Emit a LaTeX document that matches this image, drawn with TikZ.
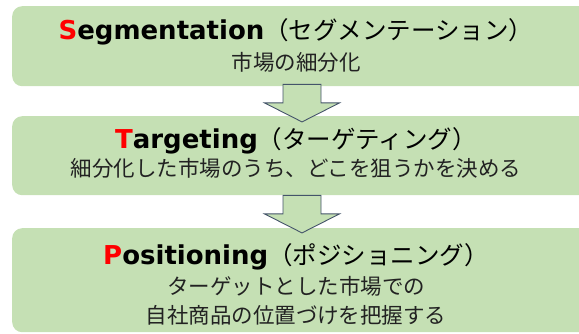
\documentclass[tikz,border=0pt]{standalone}
\usepackage{fontspec}
\setmainfont{Noto Sans CJK JP}
\newfontfamily\headfont{DejaVu Sans}
\usepackage{tikz}
\usetikzlibrary{calc}

\definecolor{boxgreen}{HTML}{C5E0B4}
\definecolor{arrowline}{HTML}{44546A}
\definecolor{keyred}{HTML}{FF0000}
\definecolor{inkgray}{HTML}{222222}

\tikzset{
  stagebox/.style={fill=boxgreen, rounded corners=10pt, minimum width=588pt,
    anchor=north west, inner sep=0pt},
  headline/.style={anchor=base, inner sep=0pt, text=black},
  subline/.style={inner sep=0pt, text=inkgray, align=center,
    font=\fontsize{21.5}{29}\selectfont},
  downarrow/.style={draw=arrowline, fill=boxgreen, line width=0.9pt, line join=miter}
}
\newcommand{\stagename}[2]{{\headfont\bfseries\fontsize{26}{30}\selectfont\textcolor{keyred}{#1}#2}}
\newcommand{\stagekana}[1]{{\fontsize{24.5}{30}\selectfont （#1）}}

\begin{document}
\begin{tikzpicture}[x=1pt, y=-1pt]
  \useasboundingbox (0,0) rectangle (579,333);
  \clip (0,0) rectangle (579,333);

  % stage boxes
  \node[stagebox, minimum height=80pt] (seg) at (12,6) {};
  \node[stagebox, minimum height=79pt] (tgt) at (12,116) {};
  \node[stagebox, minimum height=104pt] (pos) at (12,228) {};

  % S
  \node[headline] (segtitle) at (296,39) {\stagename{S}{egmentation}\stagekana{セグメンテーション}};
  \node[subline] (segtext) at (296,62) {市場の細分化};

  % T
  \node[headline] (tgttitle) at (296,148) {\stagename{T}{argeting}\stagekana{ターゲティング}};
  \node[subline] (tgttext) at (296,168) {細分化した市場のうち、どこを狙うかを決める};

  % P
  \node[headline] (postitle) at (296,264) {\stagename{P}{ositioning}\stagekana{ポジショニング}};
  \node[subline] (postext) at (296,301) {ターゲットとした市場での\\自社商品の位置づけを把握する};

  % arrows between the stages
  \coordinate (a1) at ($(seg.south west)+(290,-2)$);
  \coordinate (a2) at ($(tgt.south west)+(290,0)$);
  \foreach \a in {a1,a2}
    \draw[downarrow] (\a) ++(-19,0) -- ++(0,18.5) -- ++(-18.5,0) -- ++(37.5,19)
      -- ++(37.5,-19) -- ++(-18.5,0) -- ++(0,-18.5) -- cycle;
\end{tikzpicture}
\end{document}
